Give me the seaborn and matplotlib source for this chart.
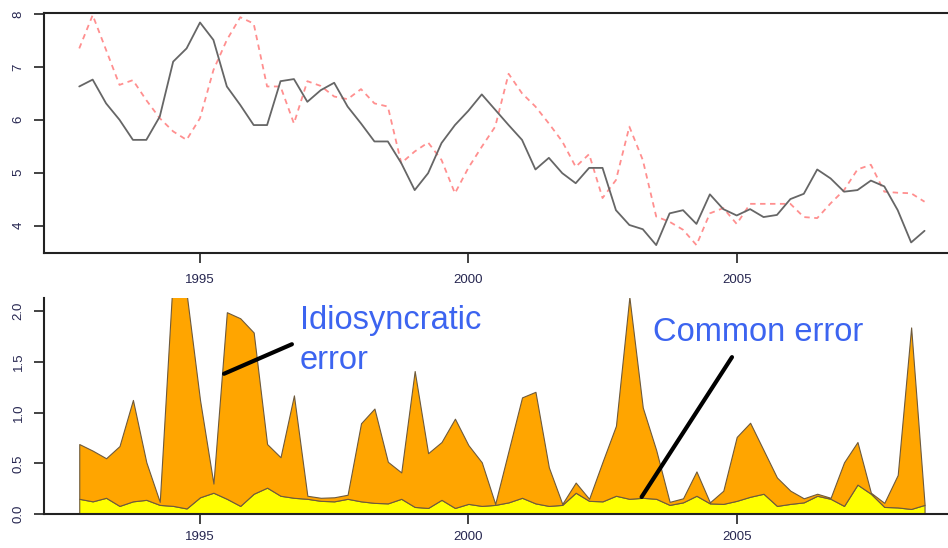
import numpy as np
import pandas as pd
import matplotlib
matplotlib.use('Agg')
import matplotlib.pyplot as plt
import seaborn as sns

# quarterly dates, 1992Q4 .. 2008Q3
periods = pd.period_range('1992Q4', '2008Q3', freq='Q')
quarters = np.array([p.year + (p.quarter - 1) / 4 for p in periods])

# top panel: actual (solid) and forecast (dashed)
actual = [6.63, 6.76, 6.31, 6.00, 5.62, 5.62, 6.06, 7.10, 7.35, 7.84,
          7.51, 6.63, 6.28, 5.90, 5.90, 6.73, 6.77, 6.34, 6.56, 6.70,
          6.25, 5.93, 5.59, 5.59, 5.18, 4.67, 4.99, 5.56, 5.90, 6.17,
          6.48, 6.19, 5.90, 5.62, 5.06, 5.28, 4.99, 4.80, 5.09, 5.09,
          4.29, 4.01, 3.93, 3.63, 4.23, 4.29, 4.03, 4.59, 4.31, 4.19,
          4.31, 4.16, 4.20, 4.50, 4.60, 5.06, 4.89, 4.64, 4.67, 4.85,
          4.74, 4.29, 3.68, 3.90]
forecast = [7.35, 7.98, 7.32, 6.66, 6.75, 6.37, 6.03, 5.78, 5.62, 6.03,
            6.94, 7.51, 7.94, 7.82, 6.63, 6.63, 5.93, 6.73, 6.64, 6.44,
            6.39, 6.58, 6.31, 6.25, 5.18, 5.40, 5.57, 5.24, 4.61, 5.09,
            5.49, 5.87, 6.87, 6.50, 6.25, 5.93, 5.59, 5.11, 5.35, 4.52,
            4.86, 5.87, 5.24, 4.17, 4.07, 3.92, 3.63, 4.23, 4.33, 4.03,
            4.41, 4.41, 4.41, 4.41, 4.16, 4.14, 4.42, 4.67, 5.06, 5.15,
            4.64, 4.62, 4.61, 4.45]

# bottom panel: error decomposition
common_err = [0.15, 0.125, 0.16, 0.08, 0.125, 0.14, 0.09, 0.08, 0.055, 0.165,
              0.21, 0.15, 0.08, 0.20, 0.26, 0.18, 0.16, 0.15, 0.13, 0.125,
              0.15, 0.125, 0.11, 0.105, 0.15, 0.07, 0.06, 0.14, 0.06, 0.10,
              0.08, 0.09, 0.115, 0.16, 0.105, 0.08, 0.09, 0.21, 0.13, 0.125,
              0.18, 0.15, 0.16, 0.15, 0.09, 0.115, 0.18, 0.105, 0.10, 0.13,
              0.17, 0.20, 0.08, 0.10, 0.115, 0.18, 0.15, 0.08, 0.29, 0.20,
              0.07, 0.065, 0.05, 0.09]
idio_err = [0.54, 0.50, 0.39, 0.59, 1.00, 0.37, 0.03, 2.31, 2.12, 0.96,
            0.09, 1.84, 1.85, 1.59, 0.43, 0.38, 1.01, 0.03, 0.03, 0.04,
            0.04, 0.77, 0.93, 0.41, 0.26, 1.34, 0.54, 0.57, 0.88, 0.58,
            0.43, 0.01, 0.51, 0.99, 1.10, 0.38, 0.01, 0.10, 0.02, 0.39,
            0.69, 1.99, 0.89, 0.48, 0.03, 0.04, 0.24, 0.01, 0.13, 0.63,
            0.73, 0.43, 0.28, 0.13, 0.04, 0.02, 0.01, 0.43, 0.42, 0.01,
            0.04, 0.32, 1.79, 0.01]

year_ticks = [1995, 2000, 2005]
top_yticks = [4, 5, 6, 7, 8]
bot_yticks = [0.0, 0.5, 1.0, 1.5, 2.0]

sns.set_style('ticks')
plt.rcParams['font.family'] = ['Liberation Sans', 'DejaVu Sans']

fig = plt.figure(figsize=(9.48, 5.48), dpi=100)
ax1 = fig.add_axes([0.0464, 0.5383, 0.9557, 0.4380])
ax2 = fig.add_axes([0.0464, 0.0620, 0.9557, 0.3942])

xlim = (1992.093, 2008.974)
tick_col = '#262650'

# top panel lines
sns.lineplot(x=quarters, y=forecast, ax=ax1, color='#ff8f8f', lw=1.3,
             linestyle=(0, (3, 2.5)), estimator=None)
sns.lineplot(x=quarters, y=actual, ax=ax1, color='#666666', lw=1.3, estimator=None)
ax1.set_xlim(*xlim)
ax1.set_ylim(3.48, 8.02)
ax1.set_xticks(year_ticks)
ax1.set_yticks(top_yticks)
for sp in ax1.spines.values():
    sp.set_linewidth(1.5)
    sp.set_color('#222222')

# bottom panel stacked areas
ax2.stackplot(quarters, common_err, idio_err, colors=['#ffff00', '#ffa500'],
              edgecolor='#6e5a3c', linewidth=0.8)
ax2.set_xlim(*xlim)
ax2.set_ylim(0, 2.13)
ax2.set_xticks(year_ticks)
ax2.set_yticks(bot_yticks)
ax2.set_yticklabels([f'{v:.1f}' for v in bot_yticks])
sns.despine(ax=ax2)
for sp in ['left', 'bottom']:
    ax2.spines[sp].set_linewidth(1.5)
    ax2.spines[sp].set_color('#222222')

for ax in (ax1, ax2):
    ax.set_xlabel('')
    ax.set_ylabel('')
    ax.tick_params(direction='out', length=7, width=1.2, color='#222222',
                   labelsize=9.5, labelcolor=tick_col, pad=8)
    ax.tick_params(axis='y', labelrotation=90, pad=7)
    for lab in ax.get_yticklabels():
        lab.set_va('center')
ax2.tick_params(axis='x', pad=5)

# annotations (baseline of the last line)
blue = '#3c64f0'
ax2.text(1996.863, 1.431, 'Idiosyncratic\nerror', color=blue, fontsize=23.5,
         va='baseline', linespacing=1.36)
ax2.text(2003.44, 1.708, 'Common error', color=blue, fontsize=23.5, va='baseline')
ax2.annotate('', xy=(1995.40, 1.372), xytext=(1996.76, 1.685),
             arrowprops=dict(arrowstyle='-', lw=3, color='black'))
ax2.annotate('', xy=(2003.20, 0.145), xytext=(2004.94, 1.57),
             arrowprops=dict(arrowstyle='-', lw=3, color='black'))

plt.savefig('out.png', dpi=100)
